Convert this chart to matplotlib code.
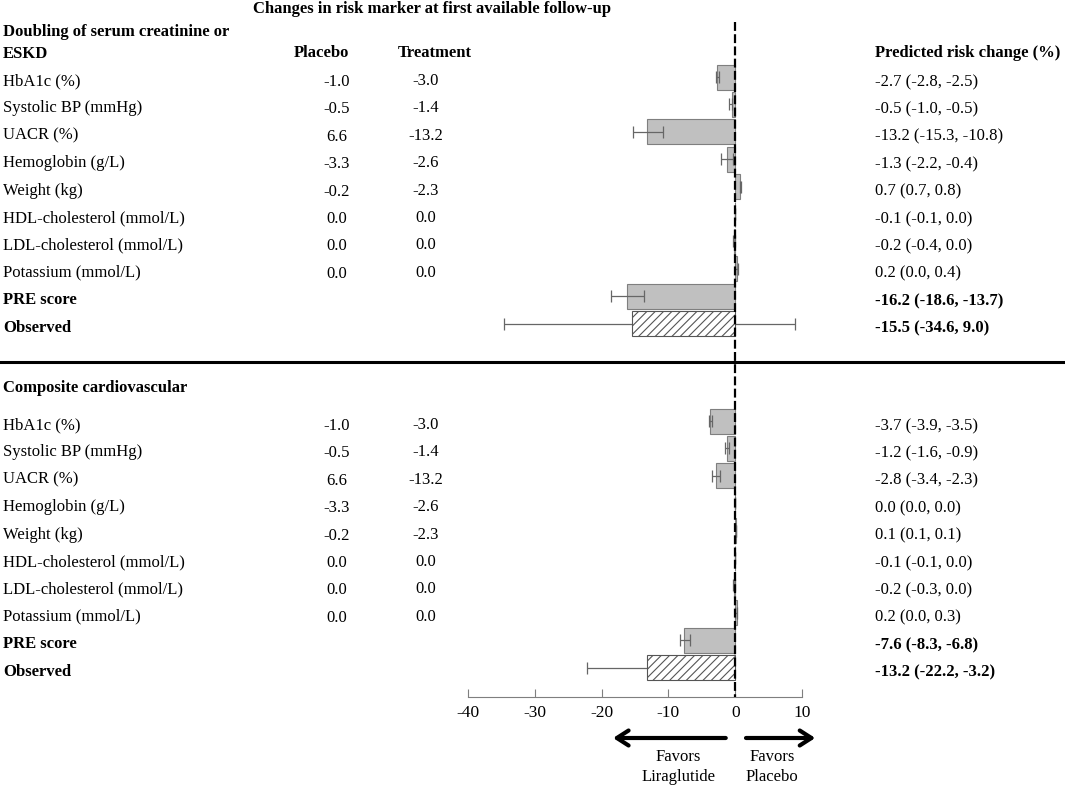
import numpy as np
import matplotlib
matplotlib.use('Agg')
import matplotlib.pyplot as plt
import matplotlib.transforms as mtransforms

plt.rcParams['font.family'] = 'Liberation Serif'
plt.rcParams['font.size'] = 12
plt.rcParams['axes.unicode_minus'] = False
plt.rcParams['hatch.linewidth'] = 0.8

# === data ===
markers = ['HbA1c (%)', 'Systolic BP (mmHg)', 'UACR (%)', 'Hemoglobin (g/L)',
           'Weight (kg)', 'HDL-cholesterol (mmol/L)', 'LDL-cholesterol (mmol/L)',
           'Potassium (mmol/L)', 'PRE score', 'Observed']
placebo = [-1.0, -0.5, 6.6, -3.3, -0.2, 0.0, 0.0, 0.0]
treatment = [-3.0, -1.4, -13.2, -2.6, -2.3, 0.0, 0.0, 0.0]

kidney_est = [-2.7, -0.5, -13.2, -1.3, 0.7, -0.1, -0.2, 0.2, -16.2, -15.5]
kidney_lo = [-2.8, -1.0, -15.3, -2.2, 0.7, -0.1, -0.4, 0.0, -18.6, -34.6]
kidney_hi = [-2.5, -0.5, -10.8, -0.4, 0.8, 0.0, 0.0, 0.4, -13.7, 9.0]

cv_est = [-3.7, -1.2, -2.8, 0.0, 0.1, -0.1, -0.2, 0.2, -7.6, -13.2]
cv_lo = [-3.9, -1.6, -3.4, 0.0, 0.1, -0.1, -0.3, 0.0, -8.3, -22.2]
cv_hi = [-3.5, -0.9, -2.3, 0.0, 0.1, 0.0, 0.0, 0.3, -6.8, -3.2]

xticks = [-40, -30, -20, -10, 0, 10]

# === figure: one axes, y measured in pixels from the top ===
W, H = 1065, 787
fig = plt.figure(figsize=(W / 100, H / 100), dpi=100)
ax = fig.add_axes([468 / W, 0, 334 / W, 1])
ax.set_xlim(-40, 10)
ax.set_ylim(H, 0)
tr = mtransforms.blended_transform_factory(fig.transFigure, ax.transData)

bar_gray = '#c0c0c0'
edge_gray = '#7f7f7f'
step = 27.4

sections = [
    ('Doubling of serum creatinine or\nESKD', 77, kidney_est, kidney_lo, kidney_hi),
    ('Composite cardiovascular', 421, cv_est, cv_lo, cv_hi),
]

for k, (title, y0, est, lo, hi) in enumerate(sections):
    ys = y0 + step * np.arange(len(markers))
    est = np.array(est)
    lo = np.array(lo)
    hi = np.array(hi)
    err = np.vstack([est - lo, hi - est])

    # predicted bars
    ax.barh(ys[:9], est[:9], height=25, color=bar_gray, edgecolor=edge_gray,
            linewidth=0.8, zorder=2)
    ax.errorbar(est[:9], ys[:9], xerr=err[:, :9], fmt='none', ecolor='#666666',
                elinewidth=0.9, capsize=4, capthick=0.9, zorder=3)
    # observed
    ax.errorbar(est[9:], ys[9:], xerr=err[:, 9:], fmt='none', ecolor='#666666',
                elinewidth=0.9, capsize=4, capthick=0.9, zorder=2)
    ax.barh(ys[9:], est[9:], height=25, color='white', edgecolor='#555555',
            linewidth=0.8, hatch='////', zorder=3)

    # section header
    if k == 0:
        ax.text(3 / W, y0 - 34, title, transform=tr, fontweight='bold',
                ha='left', va='center', linespacing=1.45)
        ax.text(321 / W, y0 - 24, 'Placebo', transform=tr, fontweight='bold',
                ha='center', va='center')
        ax.text(435 / W, y0 - 24, 'Treatment', transform=tr, fontweight='bold',
                ha='center', va='center')
        ax.text(875 / W, y0 - 24, 'Predicted risk change (%)', transform=tr,
                fontweight='bold', ha='left', va='center')
    else:
        ax.text(3 / W, y0 - 33, title, transform=tr, fontweight='bold',
                ha='left', va='center')

    # table rows
    for i, name in enumerate(markers):
        ty = ys[i] + 4
        bold = 'bold' if i >= 8 else 'normal'
        ax.text(3 / W, ty, name, transform=tr, fontweight=bold,
                ha='left', va='center')
        if i < 8:
            ax.text(337 / W, ty + 1, f'{placebo[i]:.1f}', transform=tr,
                    ha='center', va='center')
            ax.text(426 / W, ty, f'{treatment[i]:.1f}', transform=tr,
                    ha='center', va='center')
        ax.text(875 / W, ty + 1, f'{est[i]:.1f} ({lo[i]:.1f}, {hi[i]:.1f})',
                transform=tr, fontweight=bold, ha='left', va='center')

# title
ax.text(432 / W, 9, 'Changes in risk marker at first available follow-up',
        transform=tr, fontweight='bold', ha='center', va='center')

# zero reference line and section separator
ax.plot([0, 0], [22, 697], color='black', lw=1.6, ls=(0, (4, 1.5)),
        zorder=5, clip_on=False)
ax.plot([0, 1], [362, 362], transform=tr, color='black', lw=2.2, clip_on=False)

# x axis
for s in ['left', 'right', 'top']:
    ax.spines[s].set_visible(False)
ax.spines['bottom'].set_position(('data', 697))
ax.spines['bottom'].set_bounds(-40, 10)
ax.spines['bottom'].set_color(edge_gray)
ax.set_xticks(xticks)
ax.set_yticks([])
ax.tick_params(axis='x', direction='in', length=6, color=edge_gray,
               labelsize=12.5, pad=6)

# favours arrows
arrow = dict(arrowstyle='->,head_length=0.7,head_width=0.45', lw=3, color='black')
ax.annotate('', xy=(-18.7, 738), xytext=(-1.0, 738), arrowprops=arrow,
            annotation_clip=False)
ax.annotate('', xy=(12.4, 738), xytext=(1.2, 738), arrowprops=arrow,
            annotation_clip=False)
ax.text(-8.5, 767, 'Favors\nLiraglutide', ha='center', va='center',
        linespacing=1.3)
ax.text(5.5, 767, 'Favors\nPlacebo', ha='center', va='center', linespacing=1.3)

fig.savefig('out.png', dpi=100)
